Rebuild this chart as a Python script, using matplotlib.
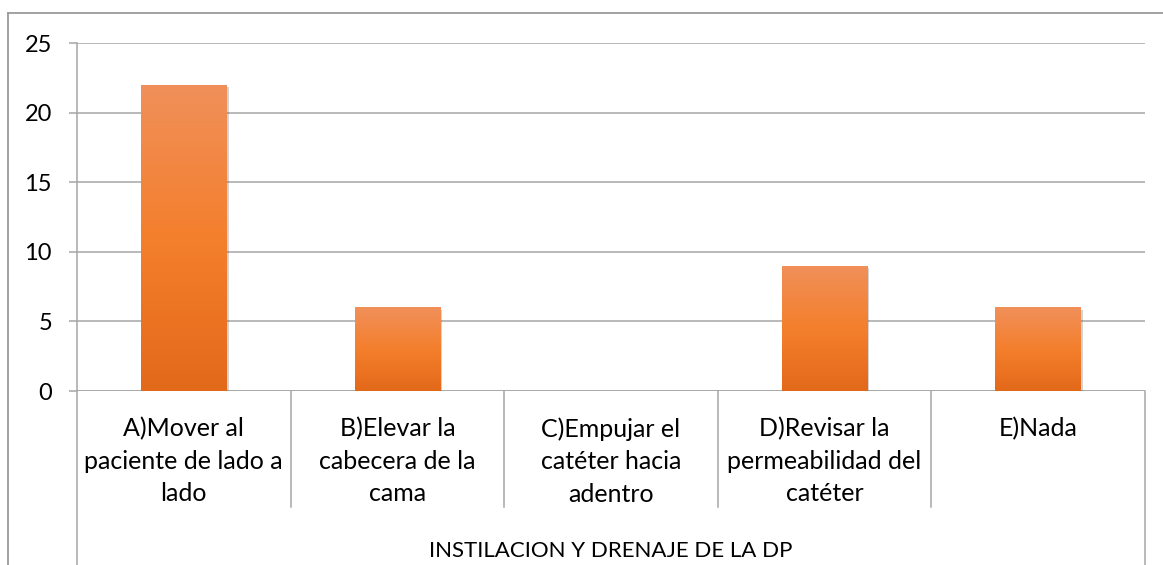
import numpy as np
import matplotlib.pyplot as plt
from matplotlib import patheffects
from matplotlib.lines import Line2D
from matplotlib.colors import LinearSegmentedColormap

# ======================
# Data
# ======================
categories = [
    "A)Mover al\npaciente de lado a\nlado",
    "B)Elevar la\ncabecera de la\ncama",
    "C)Empujar el\ncatéter hacia\nadentro",
    "D)Revisar la\npermeabilidad del\ncatéter",
    "E)Nada",
]
values = [22, 6, 0, 9, 6]
group_label = "INSTILACION Y DRENAJE DE LA DP"
y_ticks = [0, 5, 10, 15, 20, 25]

plt.rcParams["font.family"] = ["Lato", "DejaVu Sans"]
grid_color = "#a6a6a6"

# ======================
# Figure / axes
# ======================
W, H = 1163, 565
fig = plt.figure(figsize=(W / 100, H / 100), dpi=100)
x0, x1, y_top, y_zero = 77, 1145, 43, 391
ax = fig.add_axes([x0 / W, 1 - y_zero / H, (x1 - x0) / W, (y_zero - y_top) / H])

for s in ["top", "right", "bottom"]:
    ax.spines[s].set_visible(False)
ax.spines["left"].set_color(grid_color)
ax.spines["left"].set_linewidth(1.1)

ax.set_yticks(y_ticks)
ax.set_yticklabels([str(v) for v in y_ticks], fontsize=17)
ax.tick_params(axis="y", length=6, width=1.1, color=grid_color, pad=12)
ax.set_xticks([])
ax.yaxis.grid(True, color=grid_color, linewidth=1.1)
ax.set_axisbelow(True)
ax.axhline(0, color=grid_color, linewidth=1.1, zorder=1)

# ======================
# Bars with gradient
# ======================
x = np.arange(len(categories))
bars = ax.bar(x, values, width=0.4, color="#f07f2f", zorder=2)
grad = np.linspace(0, 1, 256).reshape(-1, 1)
cmap = LinearSegmentedColormap.from_list("og", ["#e3691a", "#f47f2d", "#f0905a"])
for b, v in zip(bars, values):
    if v <= 0:
        continue
    b.set_path_effects([patheffects.SimplePatchShadow(offset=(1.5, -1.5), alpha=0.25,
                                                      shadow_rgbFace="#555555"),
                        patheffects.Normal()])
    bx, bw = b.get_x(), b.get_width()
    im = ax.imshow(grad, extent=[bx, bx + bw, 0, v], origin="lower", aspect="auto",
                   cmap=cmap, zorder=3)
    im.set_clip_path(b)
ax.set_aspect("auto")
ax.set_xlim(-0.5, len(categories) - 0.5)
ax.set_ylim(0, 25)

# ======================
# Category labels and dividers below axis
# ======================
trans = ax.get_xaxis_transform()
span = y_zero - y_top
div_bottom = -(507 - y_zero) / span
full_bottom = -(H - y_zero) / span - 0.01
for i in range(len(categories) + 1):
    xb = i - 0.5
    yb = full_bottom if i in (0, len(categories)) else div_bottom
    ax.add_line(Line2D([xb, xb], [0, yb], transform=trans, color=grid_color,
                       linewidth=1.1, clip_on=False))
for i, lab in enumerate(categories):
    ax.text(i, -(417 - y_zero) / span, lab, transform=trans, ha="center", va="top",
            fontsize=18, linespacing=1.5, color="black")
ax.text(2, -(551 - y_zero) / span, group_label, transform=trans, ha="center",
        va="center", fontsize=16, color="black")

# outer frame
fig.add_artist(Line2D([8 / W, 1.0], [1 - 13 / H, 1 - 13 / H], transform=fig.transFigure,
                      color="#9a9a9a", linewidth=1.3))
fig.add_artist(Line2D([8 / W, 8 / W], [1 - 13 / H, 0], transform=fig.transFigure,
                      color="#9a9a9a", linewidth=1.3))

fig.savefig("out.png", dpi=100, facecolor="white")
